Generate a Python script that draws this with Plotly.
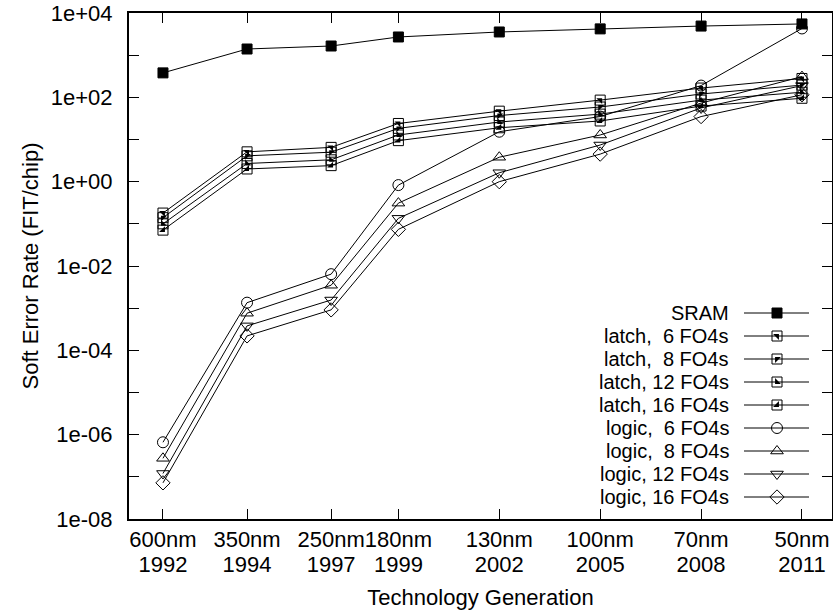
import plotly.graph_objects as go

# ---------------- data ----------------
tech_nodes = ["600nm", "350nm", "250nm", "180nm", "130nm", "100nm", "70nm", "50nm"]
years = ["1992", "1994", "1997", "1999", "2002", "2005", "2008", "2011"]

sram = [380, 1400, 1650, 2700, 3550, 4200, 4900, 5500]
latch_6 = [0.18, 5.1, 6.5, 24, 47, 86, 166, 280]
latch_8 = [0.14, 4.1, 5.0, 18.4, 37, 59, 120, 195]
latch_12 = [0.10, 2.7, 3.3, 12.8, 26, 40, 86, 132]
latch_16 = [0.071, 2.0, 2.4, 9.4, 19, 27.5, 62, 95]
logic_6 = [6.6e-7, 1.35e-3, 6.4e-3, 0.83, 15.3, 35, 190, 4300]
logic_8 = [2.75e-7, 7.6e-4, 3.5e-3, 0.31, 3.8, 12.8, 73, 310]
logic_12 = [1.2e-7, 3.8e-4, 1.56e-3, 0.135, 1.63, 7.4, 56, 190]
logic_16 = [7.2e-8, 2.2e-4, 9.1e-4, 0.074, 1.0, 4.5, 35, 115]

series_names = ["SRAM", "latch,  6 FO4s", "latch,  8 FO4s", "latch, 12 FO4s", "latch, 16 FO4s",
                "logic,  6 FO4s", "logic,  8 FO4s", "logic, 12 FO4s", "logic, 16 FO4s"]
series_values = [sram, latch_6, latch_8, latch_12, latch_16, logic_6, logic_8, logic_12, logic_16]

y_tick_vals = [1e4, 1e2, 1e0, 1e-2, 1e-4, 1e-6, 1e-8]
y_tick_text = ["1e+04", "1e+02", "1e+00", "1e-02", "1e-04", "1e-06", "1e-08"]
y_minor_vals = [1e3, 1e1, 1e-1, 1e-3, 1e-5, 1e-7]

# ---------------- layout / style ----------------
x_pos = [0, 1, 2, 2.8, 4, 5.2, 6.4, 7.6]   # horizontal placement of generations
symbols = ["square", "square-open", "square-open", "square-open", "square-open",
           "circle-open", "triangle-up-open", "triangle-down-open", "diamond-open"]
quad = [None, "triangle-ne", "triangle-nw", "triangle-sw", "triangle-se", None, None, None, None]
sizes = [10, 10, 10, 10, 10, 11, 11, 11, 11]
QS = 6.5

FONT = "Liberation Sans, Arial, Helvetica, sans-serif"
FS = 22
KEY_FS = 20
W, H = 833, 615
L, R, T, B = 129, 832, 13, 519

fig = go.Figure()

for name, vals, sym, q, sz in zip(series_names, series_values, symbols, quad, sizes):
    fig.add_trace(go.Scatter(
        x=x_pos, y=vals, mode="lines+markers", name=name, showlegend=False,
        line=dict(color="black", width=1),
        marker=dict(symbol=sym, size=sz, color="black", line=dict(color="black", width=1)),
    ))
    if q:
        fig.add_trace(go.Scatter(
            x=x_pos, y=vals, mode="markers", showlegend=False, hoverinfo="skip",
            marker=dict(symbol=q, size=QS, color="black", line=dict(width=0)),
        ))

# invisible carrier so the year tick row (second x axis) is drawn
fig.add_trace(go.Scatter(x=x_pos, y=sram, mode="markers", xaxis="x3", yaxis="y",
                         showlegend=False, hoverinfo="skip", marker=dict(opacity=0)))

# custom gnuplot-style key (text, then sample line with marker), on a pixel overlay axis
row0, dy = 313, 23
for i, (name, sym, q, sz) in enumerate(zip(series_names, symbols, quad, sizes)):
    yy = row0 + dy * i
    fig.add_trace(go.Scatter(
        x=[744, 809], y=[yy, yy], mode="lines", xaxis="x2", yaxis="y2",
        showlegend=False, hoverinfo="skip", line=dict(color="black", width=1)))
    fig.add_trace(go.Scatter(
        x=[777], y=[yy], mode="markers", xaxis="x2", yaxis="y2",
        showlegend=False, hoverinfo="skip",
        marker=dict(symbol=sym, size=sz, color="black", line=dict(color="black", width=1))))
    if q:
        fig.add_trace(go.Scatter(
            x=[777], y=[yy], mode="markers", xaxis="x2", yaxis="y2",
            showlegend=False, hoverinfo="skip",
            marker=dict(symbol=q, size=QS, color="black", line=dict(width=0))))
    fig.add_annotation(x=731, y=yy, xref="x2", yref="y2", text=name, showarrow=False,
                       xanchor="right", yanchor="middle",
                       font=dict(family=FONT, size=KEY_FS, color="black"))

xr = [-0.404, 7.957]
fig.update_layout(
    width=W, height=H,
    margin=dict(l=L, r=W - R, t=T, b=H - B, pad=0, autoexpand=False),
    paper_bgcolor="white", plot_bgcolor="white",
    font=dict(family=FONT, size=FS, color="black"),
    xaxis=dict(
        range=xr, tickmode="array", tickvals=x_pos, ticktext=tech_nodes, tickangle=0,
        ticks="inside", ticklen=10, tickwidth=1, tickcolor="black",
        showline=True, linewidth=2, linecolor="black", mirror="allticks",
        showgrid=False, zeroline=False, ticklabelstandoff=0, automargin=False,
        title=dict(text="Technology Generation", standoff=38,
                   font=dict(family=FONT, size=FS)),
    ),
    xaxis3=dict(
        range=xr, overlaying="x", anchor="y", side="bottom", tickangle=0,
        tickmode="array", tickvals=x_pos, ticktext=years,
        ticks="", showline=False, showgrid=False, zeroline=False,
        ticklabelstandoff=30, automargin=False,
    ),
    yaxis=dict(
        type="log", range=[-8, 4], tickmode="array", tickvals=y_tick_vals, ticktext=y_tick_text,
        ticks="inside", ticklen=10, tickwidth=1, tickcolor="black",
        minor=dict(tickmode="array", tickvals=y_minor_vals, ticks="inside", ticklen=5,
                   tickwidth=1, tickcolor="black", showgrid=False),
        showline=True, linewidth=2, linecolor="black", mirror="allticks",
        showgrid=False, zeroline=False, ticklabelstandoff=10, automargin=False,
        title=dict(text="Soft Error Rate (FIT/chip)", standoff=6,
                   font=dict(family=FONT, size=FS)),
    ),
    xaxis2=dict(range=[L, R], overlaying="x", visible=False, fixedrange=True),
    yaxis2=dict(range=[B, T], overlaying="y", visible=False, fixedrange=True),
    showlegend=False,
)

fig.write_html("out.html", config={"displayModeBar": False},
               post_script="document.body.style.margin='0px';document.body.style.overflow='hidden';")
